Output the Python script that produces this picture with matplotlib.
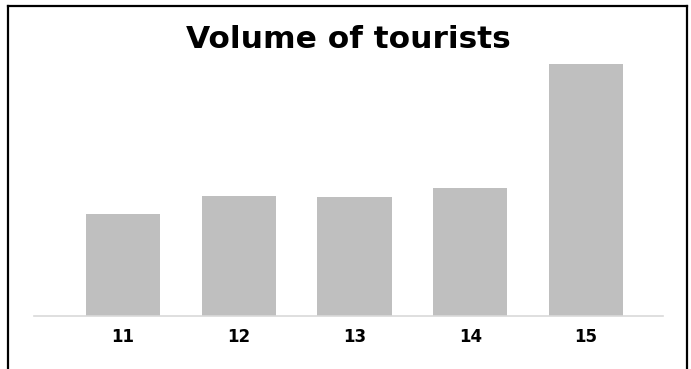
import matplotlib
matplotlib.use("Agg")
import matplotlib.pyplot as plt
from matplotlib.lines import Line2D

categories = ["11", "12", "13", "14", "15"]
values = [102, 120, 119, 128, 252]
title = "Volume of tourists"

W, H = 691, 369
fig = plt.figure(figsize=(W / 100, H / 100), dpi=100)
fig.patch.set_facecolor("white")

# axes: baseline at y=316, x from 34 to 663
ax = fig.add_axes([34 / W, (H - 316) / H, (663 - 34) / W, (316 - 30) / H])
x = list(range(len(categories)))
ax.bar(x, values, width=0.64, color="#bfbfbf", zorder=2)
ax.set_xlim(-0.769, 4.665)
ax.set_ylim(0, 286)
ax.set_xticks(x)
ax.set_xticklabels(categories, fontfamily="DejaVu Sans", fontweight="bold", fontsize=12)
ax.tick_params(axis="x", length=0, pad=8.5)
ax.set_yticks([])
for s in ["top", "right", "left"]:
    ax.spines[s].set_visible(False)
ax.spines["bottom"].set_color("#d9d9d9")
ax.spines["bottom"].set_linewidth(1.2)

fig.text(348.5 / W, 1 - 39 / H, title, ha="center", va="center",
         fontfamily="DejaVu Sans", fontweight="bold", fontsize=22.5)

# frame lines
lw = 1.6
fig.add_artist(Line2D([8 / W, 8 / W], [0, 1 - 6 / H], color="black", lw=lw, transform=fig.transFigure))
fig.add_artist(Line2D([8 / W, 687 / W], [1 - 6 / H, 1 - 6 / H], color="black", lw=lw, transform=fig.transFigure))
fig.add_artist(Line2D([687 / W, 687 / W], [0, 1 - 6 / H], color="black", lw=lw, transform=fig.transFigure))

fig.savefig("out.png", dpi=100)
